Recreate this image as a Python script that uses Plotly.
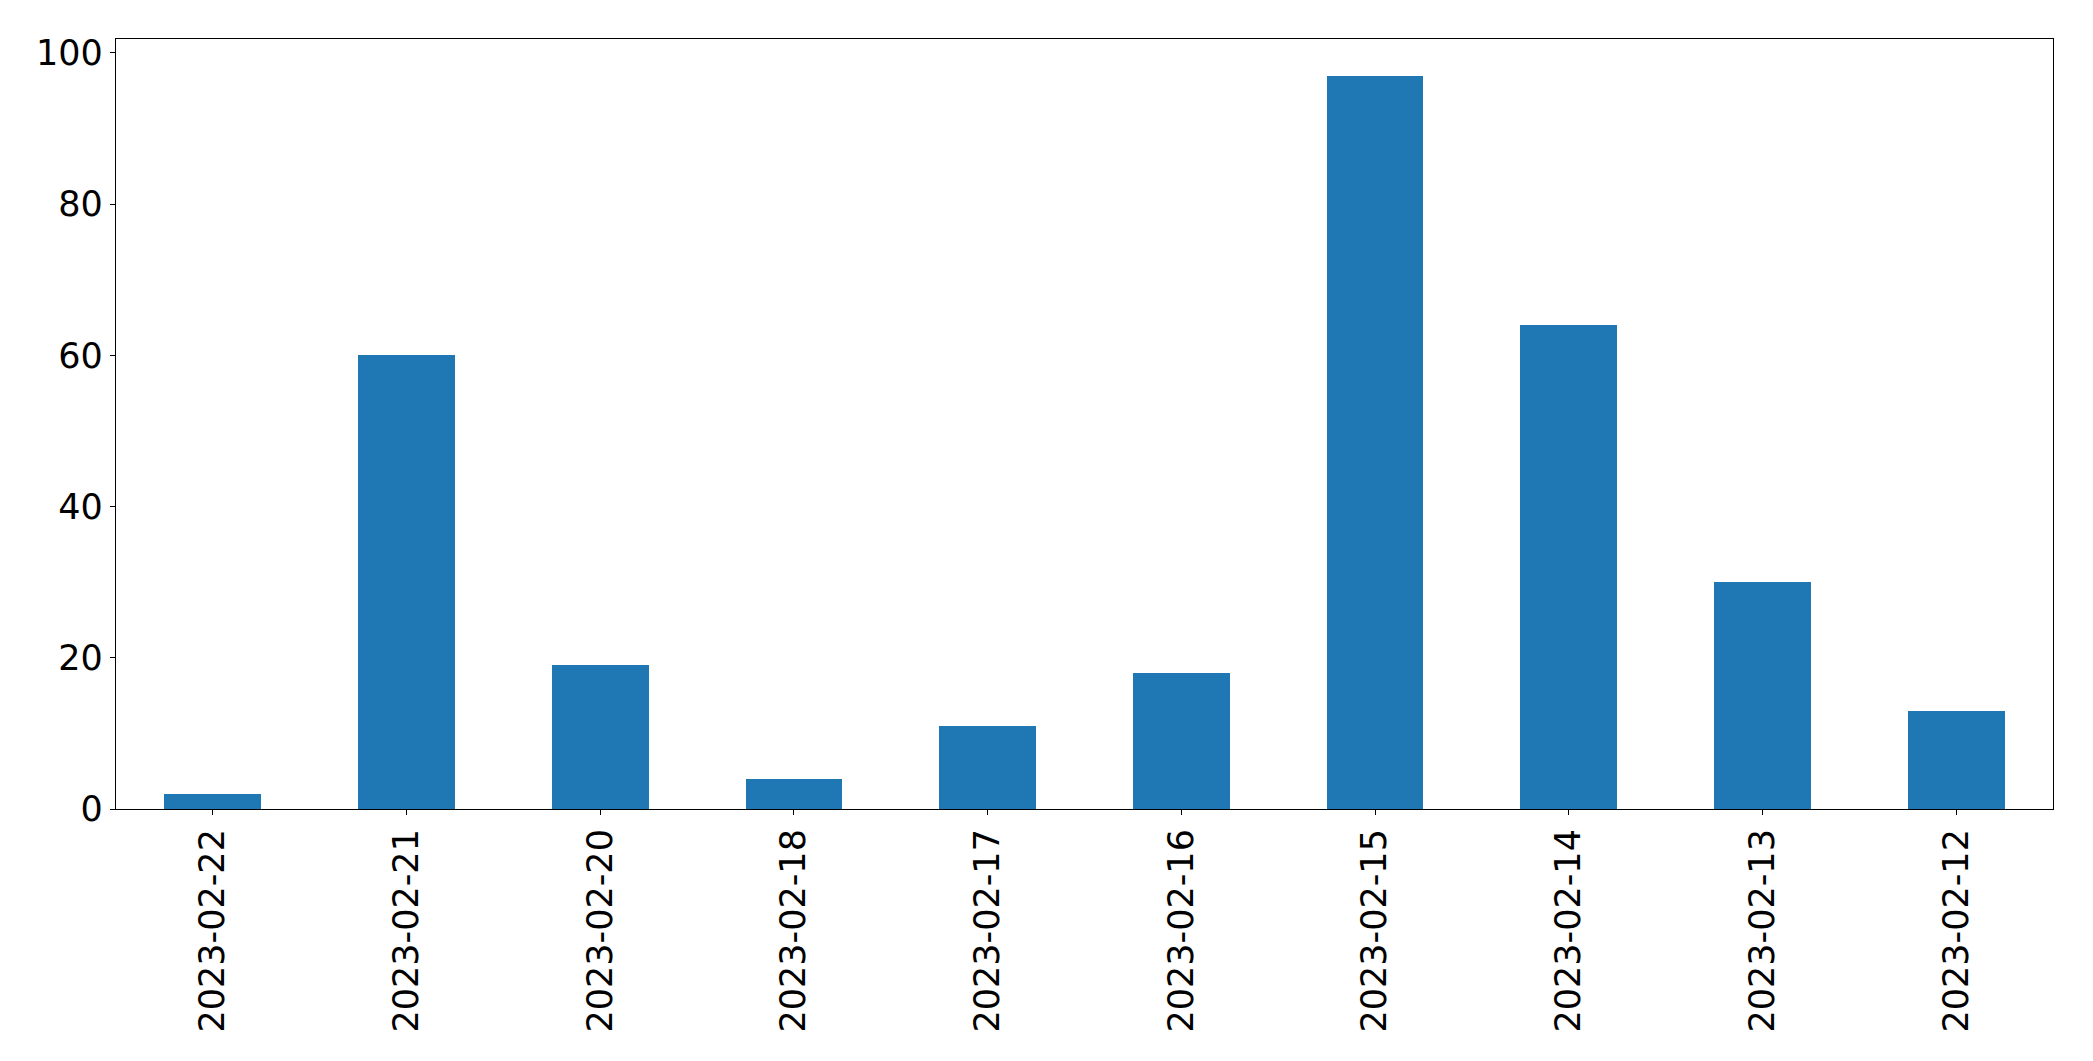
import plotly.graph_objects as go

dates = ["2023-02-22", "2023-02-21", "2023-02-20", "2023-02-18", "2023-02-17",
         "2023-02-16", "2023-02-15", "2023-02-14", "2023-02-13", "2023-02-12"]
counts = [2, 60, 19, 4, 11, 18, 97, 64, 30, 13]
y_ticks = [0, 20, 40, 60, 80, 100]

fig = go.Figure()
fig.add_trace(go.Bar(
    x=list(range(len(dates))),
    y=counts,
    width=0.5,
    marker=dict(color="#1f77b4", line=dict(width=0)),
))

axis_font = dict(family="DejaVu Sans", size=35, color="black")
fig.update_layout(
    width=2077,
    height=1045,
    margin=dict(l=108, r=32, t=31, b=244),
    plot_bgcolor="white",
    paper_bgcolor="white",
    showlegend=False,
    bargap=0,
    xaxis=dict(
        range=[-0.5, len(dates) - 0.5],
        tickmode="array",
        tickvals=list(range(len(dates))),
        ticktext=dates,
        tickangle=-90,
        tickfont=axis_font,
        ticks="outside",
        ticklen=5,
        tickcolor="black",
        showline=True,
        linecolor="black",
        linewidth=1.2,
        mirror=True,
        showgrid=False,
        zeroline=False,
    ),
    yaxis=dict(
        range=[0, max(counts) * 1.05],
        tickmode="array",
        tickvals=y_ticks,
        ticktext=[str(v) for v in y_ticks],
        tickfont=axis_font,
        ticks="outside",
        ticklen=5,
        tickcolor="black",
        showline=True,
        linecolor="black",
        linewidth=1.2,
        mirror=True,
        showgrid=False,
        zeroline=False,
    ),
)

fig.write_html("out.html")
